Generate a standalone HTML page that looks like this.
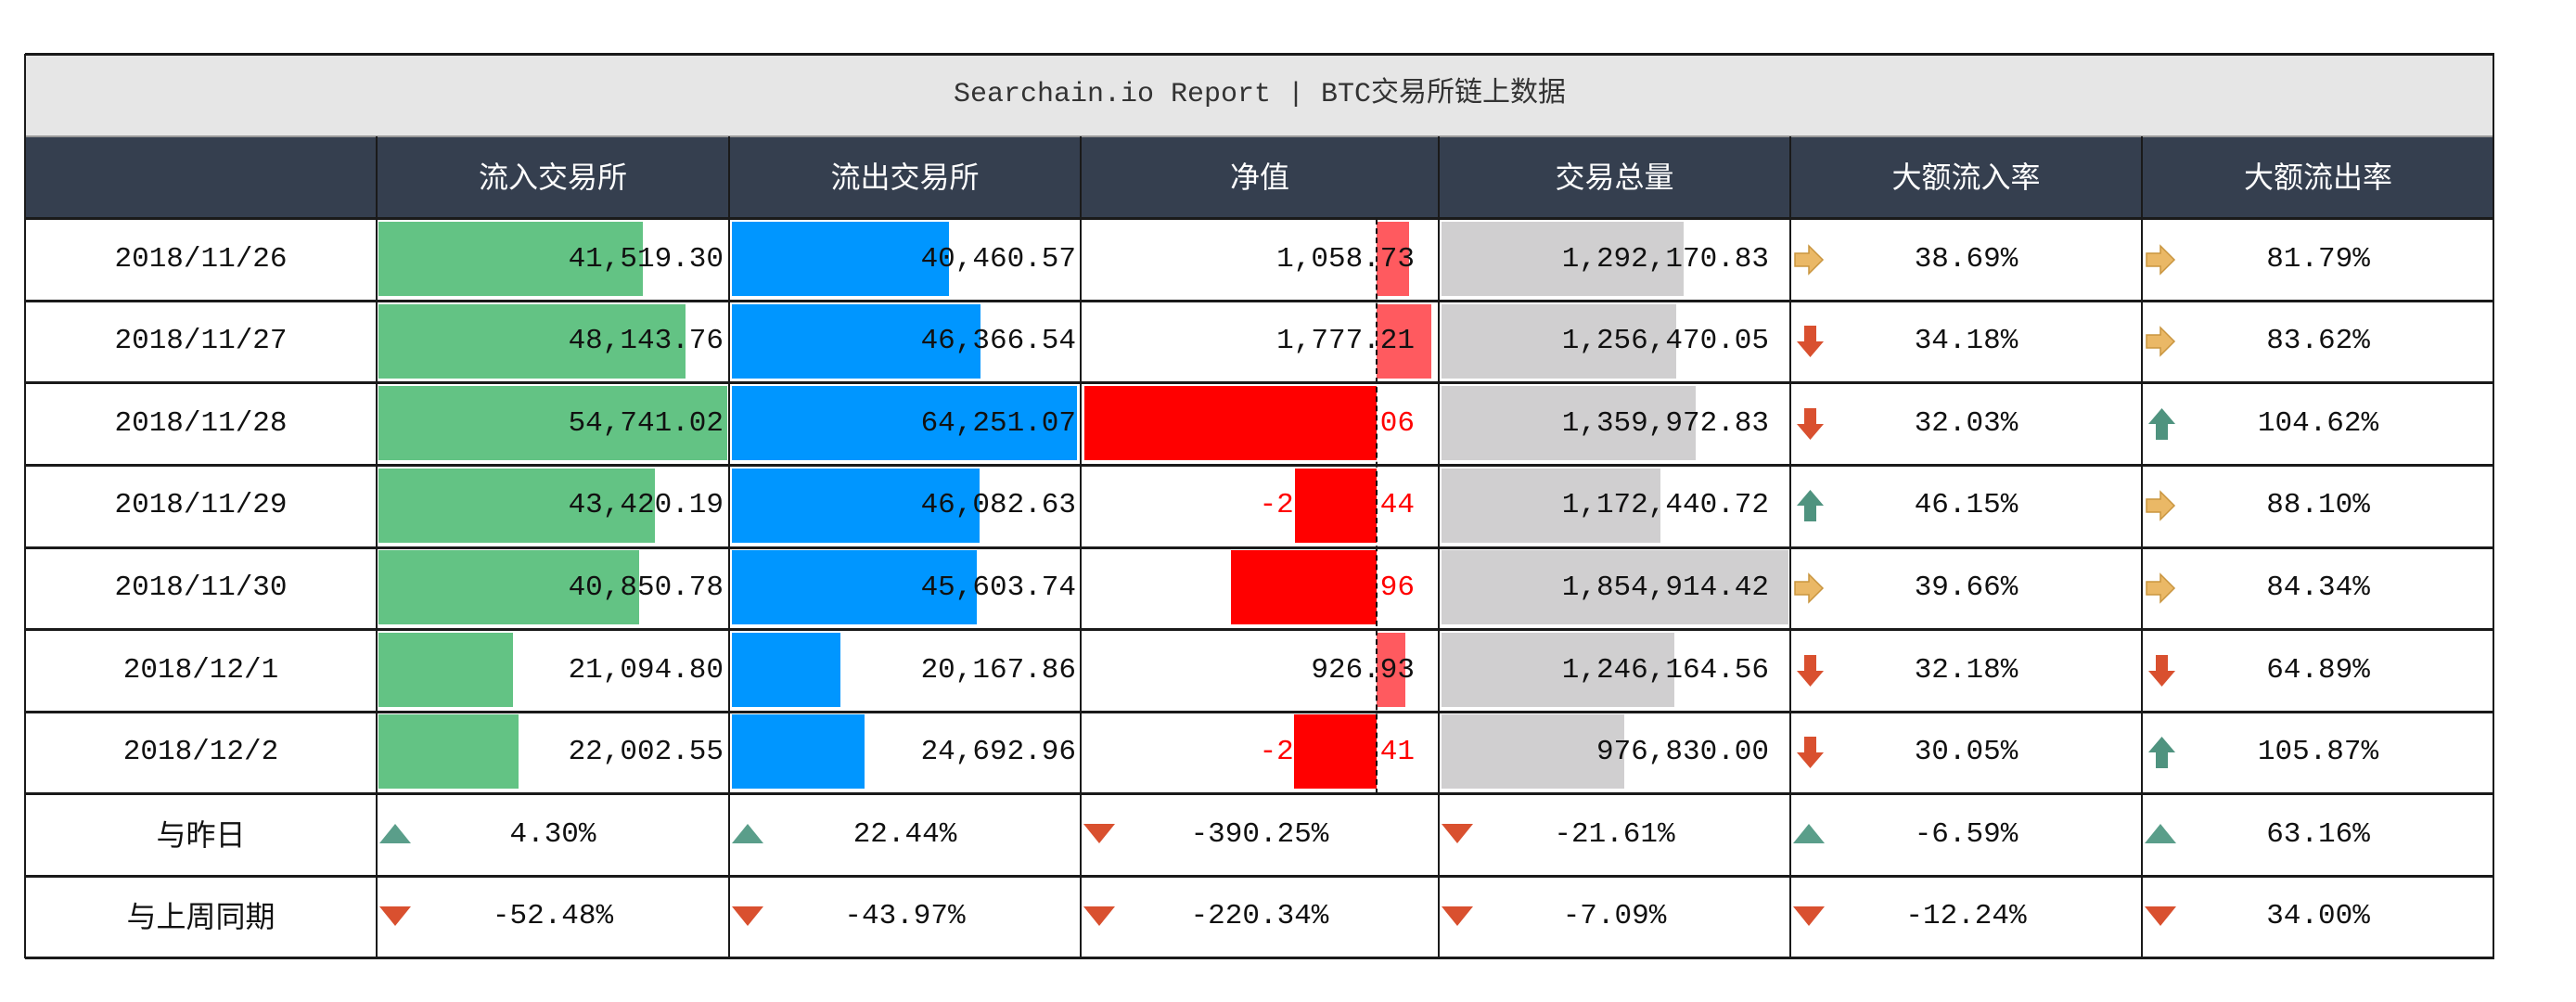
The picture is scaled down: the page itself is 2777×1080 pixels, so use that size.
<!DOCTYPE html>
<html><head><meta charset="utf-8">
<style>
body{margin:0;background:#fff;width:2777px;height:1080px;overflow:hidden;position:relative;font-family:"Liberation Mono","Noto Sans CJK SC",monospace;}
.a{position:absolute;}
.t{position:absolute;font-size:31px;line-height:88px;height:88px;color:#111;white-space:nowrap;}
.r{text-align:right;}
.c{text-align:center;}
.bar{position:absolute;height:80px;}
.hl{position:absolute;left:27px;width:2662px;background:#1a1a1a;}
.vl{position:absolute;width:2px;background:#1a1a1a;}
.hd{position:absolute;top:147px;height:89px;line-height:89px;color:#fff;font-size:32px;text-align:center;font-family:"Liberation Sans","Noto Sans CJK SC",sans-serif;}
.cn{font-family:"Liberation Sans","Noto Sans CJK SC",sans-serif;font-size:32px;}
</style></head><body>
<div class="a" style="left:27px;top:58px;width:2662px;height:89px;background:#e6e6e6"></div>
<div class="a" style="left:27px;top:58px;width:2662px;height:89px;line-height:89px;text-align:center;font-size:30px;color:#333;font-family:'Liberation Mono','Noto Sans CJK SC',monospace">Searchain.io Report | BTC交易所链上数据</div>
<div class="a" style="left:27px;top:147px;width:2662px;height:89px;background:#353f4f"></div>
<div class="hd" style="left:406px;width:380px">流入交易所</div>
<div class="hd" style="left:786px;width:379px">流出交易所</div>
<div class="hd" style="left:1165px;width:386px">净值</div>
<div class="hd" style="left:1551px;width:379px">交易总量</div>
<div class="hd" style="left:1930px;width:379px">大额流入率</div>
<div class="hd" style="left:2309px;width:380px">大额流出率</div>

<div class="bar" style="left:408px;top:239px;width:285px;background:#63c384"></div>
<div class="bar" style="left:408px;top:328px;width:331px;background:#63c384"></div>
<div class="bar" style="left:408px;top:416px;width:376px;background:#63c384"></div>
<div class="bar" style="left:408px;top:505px;width:298px;background:#63c384"></div>
<div class="bar" style="left:408px;top:593px;width:281px;background:#63c384"></div>
<div class="bar" style="left:408px;top:682px;width:145px;background:#63c384"></div>
<div class="bar" style="left:408px;top:770px;width:151px;background:#63c384"></div>

<div class="bar" style="left:789px;top:239px;width:234px;background:#0096ff"></div>
<div class="bar" style="left:789px;top:328px;width:268px;background:#0096ff"></div>
<div class="bar" style="left:789px;top:416px;width:372px;background:#0096ff"></div>
<div class="bar" style="left:789px;top:505px;width:267px;background:#0096ff"></div>
<div class="bar" style="left:789px;top:593px;width:264px;background:#0096ff"></div>
<div class="bar" style="left:789px;top:682px;width:117px;background:#0096ff"></div>
<div class="bar" style="left:789px;top:770px;width:143px;background:#0096ff"></div>

<div class="bar" style="left:1554px;top:239px;width:261px;background:#d0cfd0"></div>
<div class="bar" style="left:1554px;top:328px;width:253px;background:#d0cfd0"></div>
<div class="bar" style="left:1554px;top:416px;width:274px;background:#d0cfd0"></div>
<div class="bar" style="left:1554px;top:505px;width:236px;background:#d0cfd0"></div>
<div class="bar" style="left:1554px;top:593px;width:374px;background:#d0cfd0"></div>
<div class="bar" style="left:1554px;top:682px;width:251px;background:#d0cfd0"></div>
<div class="bar" style="left:1554px;top:770px;width:197px;background:#d0cfd0"></div>

<div class="bar" style="left:1484px;top:239px;width:35px;background:#ff5a5f"></div>
<div class="bar" style="left:1484px;top:328px;width:59px;background:#ff5a5f"></div>
<div class="bar" style="left:1484px;top:682px;width:31px;background:#ff5a5f"></div>

<div class="t c" style="left:27px;top:236px;width:379px">2018/11/26</div>
<div class="t c" style="left:27px;top:324px;width:379px">2018/11/27</div>
<div class="t c" style="left:27px;top:413px;width:379px">2018/11/28</div>
<div class="t c" style="left:27px;top:501px;width:379px">2018/11/29</div>
<div class="t c" style="left:27px;top:590px;width:379px">2018/11/30</div>
<div class="t c" style="left:27px;top:679px;width:379px">2018/12/1</div>
<div class="t c" style="left:27px;top:767px;width:379px">2018/12/2</div>

<div class="t r" style="left:406px;top:236px;width:374px">41,519.30</div>
<div class="t r" style="left:406px;top:324px;width:374px">48,143.76</div>
<div class="t r" style="left:406px;top:413px;width:374px">54,741.02</div>
<div class="t r" style="left:406px;top:501px;width:374px">43,420.19</div>
<div class="t r" style="left:406px;top:590px;width:374px">40,850.78</div>
<div class="t r" style="left:406px;top:679px;width:374px">21,094.80</div>
<div class="t r" style="left:406px;top:767px;width:374px">22,002.55</div>

<div class="t r" style="left:786px;top:236px;width:374px">40,460.57</div>
<div class="t r" style="left:786px;top:324px;width:374px">46,366.54</div>
<div class="t r" style="left:786px;top:413px;width:374px">64,251.07</div>
<div class="t r" style="left:786px;top:501px;width:374px">46,082.63</div>
<div class="t r" style="left:786px;top:590px;width:374px">45,603.74</div>
<div class="t r" style="left:786px;top:679px;width:374px">20,167.86</div>
<div class="t r" style="left:786px;top:767px;width:374px">24,692.96</div>

<div class="t r" style="left:1165px;top:236px;width:360px">1,058.73</div>
<div class="t r" style="left:1165px;top:324px;width:360px">1,777.21</div>
<div class="t r" style="left:1165px;top:413px;width:360px;color:#f00">-9,510.06</div>
<div class="t r" style="left:1165px;top:501px;width:360px;color:#f00">-2,662.44</div>
<div class="t r" style="left:1165px;top:590px;width:360px;color:#f00">-4,752.96</div>
<div class="t r" style="left:1165px;top:679px;width:360px">926.93</div>
<div class="t r" style="left:1165px;top:767px;width:360px;color:#f00">-2,690.41</div>
<div class="bar" style="left:1169px;top:416px;width:315px;background:#f00"></div>
<div class="bar" style="left:1396px;top:505px;width:88px;background:#f00"></div>
<div class="bar" style="left:1327px;top:593px;width:157px;background:#f00"></div>
<div class="bar" style="left:1395px;top:770px;width:89px;background:#f00"></div>
<div class="a" style="left:1483px;top:236px;width:0;height:620px;border-left:2px dashed #111"></div>

<div class="t r" style="left:1551px;top:236px;width:356px">1,292,170.83</div>
<div class="t r" style="left:1551px;top:324px;width:356px">1,256,470.05</div>
<div class="t r" style="left:1551px;top:413px;width:356px">1,359,972.83</div>
<div class="t r" style="left:1551px;top:501px;width:356px">1,172,440.72</div>
<div class="t r" style="left:1551px;top:590px;width:356px">1,854,914.42</div>
<div class="t r" style="left:1551px;top:679px;width:356px">1,246,164.56</div>
<div class="t r" style="left:1551px;top:767px;width:356px">976,830.00</div>

<div class="t c" style="left:1930px;top:236px;width:379px">38.69%</div>
<div class="t c" style="left:1930px;top:324px;width:379px">34.18%</div>
<div class="t c" style="left:1930px;top:413px;width:379px">32.03%</div>
<div class="t c" style="left:1930px;top:501px;width:379px">46.15%</div>
<div class="t c" style="left:1930px;top:590px;width:379px">39.66%</div>
<div class="t c" style="left:1930px;top:679px;width:379px">32.18%</div>
<div class="t c" style="left:1930px;top:767px;width:379px">30.05%</div>

<div class="t c" style="left:2309px;top:236px;width:380px">81.79%</div>
<div class="t c" style="left:2309px;top:324px;width:380px">83.62%</div>
<div class="t c" style="left:2309px;top:413px;width:380px">104.62%</div>
<div class="t c" style="left:2309px;top:501px;width:380px">88.10%</div>
<div class="t c" style="left:2309px;top:590px;width:380px">84.34%</div>
<div class="t c" style="left:2309px;top:679px;width:380px">64.89%</div>
<div class="t c" style="left:2309px;top:767px;width:380px">105.87%</div>

<div class="t c cn" style="left:27px;top:856px;width:379px">与昨日</div>
<div class="t c cn" style="left:27px;top:944px;width:379px">与上周同期</div>
<div class="t c" style="left:406px;top:856px;width:380px">4.30%</div>
<div class="t c" style="left:786px;top:856px;width:379px">22.44%</div>
<div class="t c" style="left:1165px;top:856px;width:386px">-390.25%</div>
<div class="t c" style="left:1551px;top:856px;width:379px">-21.61%</div>
<div class="t c" style="left:1930px;top:856px;width:379px">-6.59%</div>
<div class="t c" style="left:2309px;top:856px;width:380px">63.16%</div>
<div class="t c" style="left:406px;top:944px;width:380px">-52.48%</div>
<div class="t c" style="left:786px;top:944px;width:379px">-43.97%</div>
<div class="t c" style="left:1165px;top:944px;width:386px">-220.34%</div>
<div class="t c" style="left:1551px;top:944px;width:379px">-7.09%</div>
<div class="t c" style="left:1930px;top:944px;width:379px">-12.24%</div>
<div class="t c" style="left:2309px;top:944px;width:380px">34.00%</div>

<svg width="2777" height="1080" class="a" style="left:0;top:0">
<defs>
<g id="R"><path d="M0 10 H15 V2 L30 17 L15 32 V24 H0 Z" fill="#eab866" stroke="#c9953f" stroke-width="1.5"/></g>
<g id="D"><path d="M9 0 H22 V17 H30 L15.5 34 L1 17 H9 Z" fill="#d9502f"/></g>
<g id="U"><path d="M9 34 H22 V17 H30 L15.5 0 L1 17 H9 Z" fill="#4f937f"/></g>
<g id="TU"><path d="M0 24 L17 3 L34 24 Z" fill="#5a9e8a"/></g>
<g id="TD"><path d="M0 4 L34 4 L17 25 Z" fill="#d9502f"/></g>
</defs>
<use href="#R" x="1935" y="263"/>
<use href="#D" x="1936" y="351"/>
<use href="#D" x="1936" y="440"/>
<use href="#U" x="1936" y="528"/>
<use href="#R" x="1935" y="617"/>
<use href="#D" x="1936" y="706"/>
<use href="#D" x="1936" y="794"/>
<use href="#R" x="2314" y="263"/>
<use href="#R" x="2314" y="351"/>
<use href="#U" x="2315" y="440"/>
<use href="#R" x="2314" y="528"/>
<use href="#R" x="2314" y="617"/>
<use href="#D" x="2315" y="706"/>
<use href="#U" x="2315" y="794"/>
<use href="#TU" x="409" y="885"/>
<use href="#TU" x="789" y="885"/>
<use href="#TD" x="1168" y="884"/>
<use href="#TD" x="1554" y="884"/>
<use href="#TU" x="1933" y="885"/>
<use href="#TU" x="2312" y="885"/>
<use href="#TD" x="409" y="973"/>
<use href="#TD" x="789" y="973"/>
<use href="#TD" x="1168" y="973"/>
<use href="#TD" x="1554" y="973"/>
<use href="#TD" x="1933" y="973"/>
<use href="#TD" x="2312" y="973"/>
</svg>

<div class="hl" style="top:57px;height:3px"></div>
<div class="hl" style="top:146px;height:2px;background:#999"></div>
<div class="hl" style="top:234px;height:3px"></div>
<div class="hl" style="top:323px;height:3px"></div>
<div class="hl" style="top:411px;height:3px"></div>
<div class="hl" style="top:500px;height:3px"></div>
<div class="hl" style="top:589px;height:3px"></div>
<div class="hl" style="top:677px;height:3px"></div>
<div class="hl" style="top:766px;height:3px"></div>
<div class="hl" style="top:854px;height:3px"></div>
<div class="hl" style="top:943px;height:3px"></div>
<div class="hl" style="top:1031px;height:3px"></div>
<div class="vl" style="left:26px;top:58px;height:975px"></div>
<div class="vl" style="left:2687px;top:58px;height:975px"></div>
<div class="vl" style="left:405px;top:147px;height:886px"></div>
<div class="vl" style="left:785px;top:147px;height:886px"></div>
<div class="vl" style="left:1164px;top:147px;height:886px"></div>
<div class="vl" style="left:1550px;top:147px;height:886px"></div>
<div class="vl" style="left:1929px;top:147px;height:886px"></div>
<div class="vl" style="left:2308px;top:147px;height:886px"></div>
</body></html>
